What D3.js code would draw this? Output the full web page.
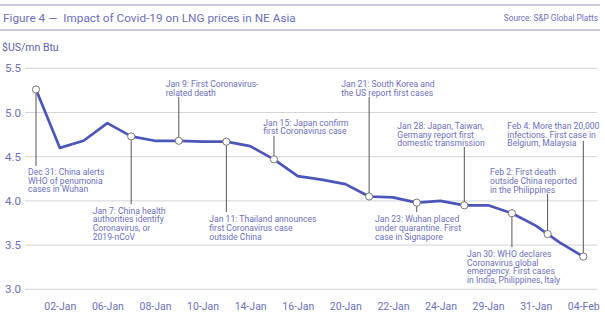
<!DOCTYPE html>
<html>
<head>
<meta charset="utf-8">
<script src="https://cdn.jsdelivr.net/npm/d3@7"></script>
<style>
  html, body { margin: 0; padding: 0; background: #fff; }
  svg { display: block; font-family: Roboto, "Noto Sans", sans-serif; }
</style>
</head>
<body>
<svg id="chart" width="605" height="321"></svg>
<script>
// ---- data ----
const categories = ["31-Dec","02-Jan","03-Jan","06-Jan","07-Jan","08-Jan","09-Jan","10-Jan","13-Jan","14-Jan","15-Jan","16-Jan","17-Jan","20-Jan","21-Jan","22-Jan","23-Jan","24-Jan","28-Jan","29-Jan","30-Jan","31-Jan","03-Feb","04-Feb"];
const prices = [5.26,4.60,4.68,4.88,4.73,4.68,4.68,4.67,4.67,4.62,4.47,4.28,4.24,4.19,4.05,4.04,3.98,4.00,3.95,3.95,3.86,3.72,3.53,3.37];
const tickLabels = ["02-Jan","06-Jan","08-Jan","10-Jan","14-Jan","16-Jan","20-Jan","22-Jan","24-Jan","29-Jan","31-Jan","04-Feb"];
const yTicks = [3.0,3.5,4.0,4.5,5.0,5.5];
// events: position on the category axis (index, fractional = between days) and text
const eventIndex = [0,4,6,8,10,14,16,18,23,21.5,20];
const eventText = [
  ["Dec 31: China alerts","WHO of penumonia","cases in Wuhan"],
  ["Jan 7: China health","authorities identify","Coronavirus, or","2019-nCoV"],
  ["Jan 9: First Coronavirus-","related death"],
  ["Jan 11: Thailand announces","first Coronavirus case","outside China"],
  ["Jan 15: Japan confirm","first Coronavirus case"],
  ["Jan 21: South Korea and","the US report first cases"],
  ["Jan 23: Wuhan placed","under quarantine. First","case in Signapore"],
  ["Jan 28: Japan, Taiwan,","Germany report first","domestic transmission"],
  ["Feb 4: More than 20,000","infections. First case in","Belgium, Malaysia"],
  ["Feb 2: First death","outside China reported","in the Philippines"],
  ["Jan 30: WHO declares","Coronavirus global","emergency. First cases","in India, Philippines, Italy"]
];
// layout for annotation labels: [text left x, first line centre y, leader end y]
const eventLayout = [
  [28,172,166],[92.7,210.7,204],[165.7,84,97],[209.3,219.3,212],[263.3,122.7,136],
  [341.3,84.3,97],[375,219.3,212],[397.3,126,147],[507.3,126,141],[490,172.3,194],[467,254,247]
];

// ---- styles ----
const textColor = "#6c70bd";
const lineColor = "#4b56ba";
const ruleColor = "#b9b9d6";

const svg = d3.select("#chart");

// header
svg.append("line").attr("x1",0).attr("x2",600).attr("y1",5).attr("y2",5)
  .attr("stroke",ruleColor).attr("stroke-width",1.3);
svg.append("line").attr("x1",0).attr("x2",600).attr("y1",30).attr("y2",30)
  .attr("stroke",ruleColor).attr("stroke-width",1.3);
svg.append("text").attr("x",3).attr("y",21.7).attr("font-size",11.8).attr("fill",textColor)
  .attr("xml:space","preserve")
  .text("Figure 4 \u2014  Impact of Covid-19 on LNG prices in NE Asia");
svg.append("text").attr("x",598).attr("y",21).attr("text-anchor","end").attr("font-size",8.3).attr("fill",textColor)
  .text("Source: S&P Global Platts");
svg.append("text").attr("x",2).attr("y",50.5).attr("font-size",10.5).attr("fill","#5c61ab")
  .text("$US/mn Btu");

// scales
const x = d3.scalePoint().domain(categories).range([36, 583.3]).padding(0);
const y = d3.scaleLinear().domain([3.0, 5.5]).range([289.3, 68.3]);

// y axis labels + gridlines
const yAxis = d3.axisLeft(y).tickValues(yTicks).tickFormat(d3.format(".1f")).tickSize(0).tickPadding(0);
const gy = svg.append("g").attr("transform","translate(21,0)").call(yAxis);
gy.select(".domain").remove();
gy.selectAll("text").attr("fill",textColor).attr("font-size",11.5).attr("font-family","Roboto, sans-serif");
svg.append("g").selectAll("line").data(yTicks).join("line")
  .attr("x1",25).attr("x2",597).attr("y1",d=>y(d)).attr("y2",d=>y(d))
  .attr("stroke","#d3d3d8").attr("stroke-width",1);

// x axis
const labelOf = {};
categories.forEach((c,i)=>{ if (i % 2 === 1) labelOf[c] = tickLabels[(i-1)/2]; });
const xAxis = d3.axisBottom(x).tickValues(categories.filter((c,i)=>i%2===1))
  .tickFormat(c=>labelOf[c]).tickSize(0).tickPadding(0);
const gx = svg.append("g").attr("transform","translate(0,303)").call(xAxis);
gx.select(".domain").remove();
gx.selectAll("text").attr("fill",textColor).attr("font-size",10.5).attr("font-family","Roboto, sans-serif");

// helper for fractional index positions
function posAt(idx){
  const i0 = Math.floor(idx), i1 = Math.min(categories.length-1, i0+1), t = idx - i0;
  const x0 = x(categories[i0]), x1 = x(categories[i1]);
  return [x0 + (x1-x0)*t, y(prices[i0] + (prices[i1]-prices[i0])*t)];
}

// leader lines
const ev = eventIndex.map((idx,k)=>({idx, lines:eventText[k], lay:eventLayout[k], p:posAt(idx)}));
svg.append("g").selectAll("line").data(ev).join("line")
  .attr("x1",d=>d.p[0]).attr("x2",d=>d.p[0]).attr("y1",d=>d.p[1]).attr("y2",d=>d.lay[2])
  .attr("stroke","#555").attr("stroke-width",1);

// price line
const line = d3.line().x((d,i)=>x(categories[i])).y(d=>y(d));
svg.append("path").datum(prices).attr("d",line).attr("fill","none")
  .attr("stroke",lineColor).attr("stroke-width",2.7).attr("stroke-linejoin","round");

// markers
svg.append("g").selectAll("circle").data(ev).join("circle")
  .attr("cx",d=>d.p[0]).attr("cy",d=>d.p[1]).attr("r",3.6)
  .attr("fill","#fff").attr("stroke","#777").attr("stroke-width",1);

// annotation texts
const lh = 8.6;
const tg = svg.append("g").attr("font-size",8.6).attr("fill",textColor);
ev.forEach(d=>{
  const t = tg.append("text").attr("x",d.lay[0]).attr("y",d.lay[1]+3.1);
  d.lines.forEach((s,i)=>t.append("tspan").attr("x",d.lay[0]).attr("dy",i===0?0:lh).text(s));
});
</script>
</body>
</html>
